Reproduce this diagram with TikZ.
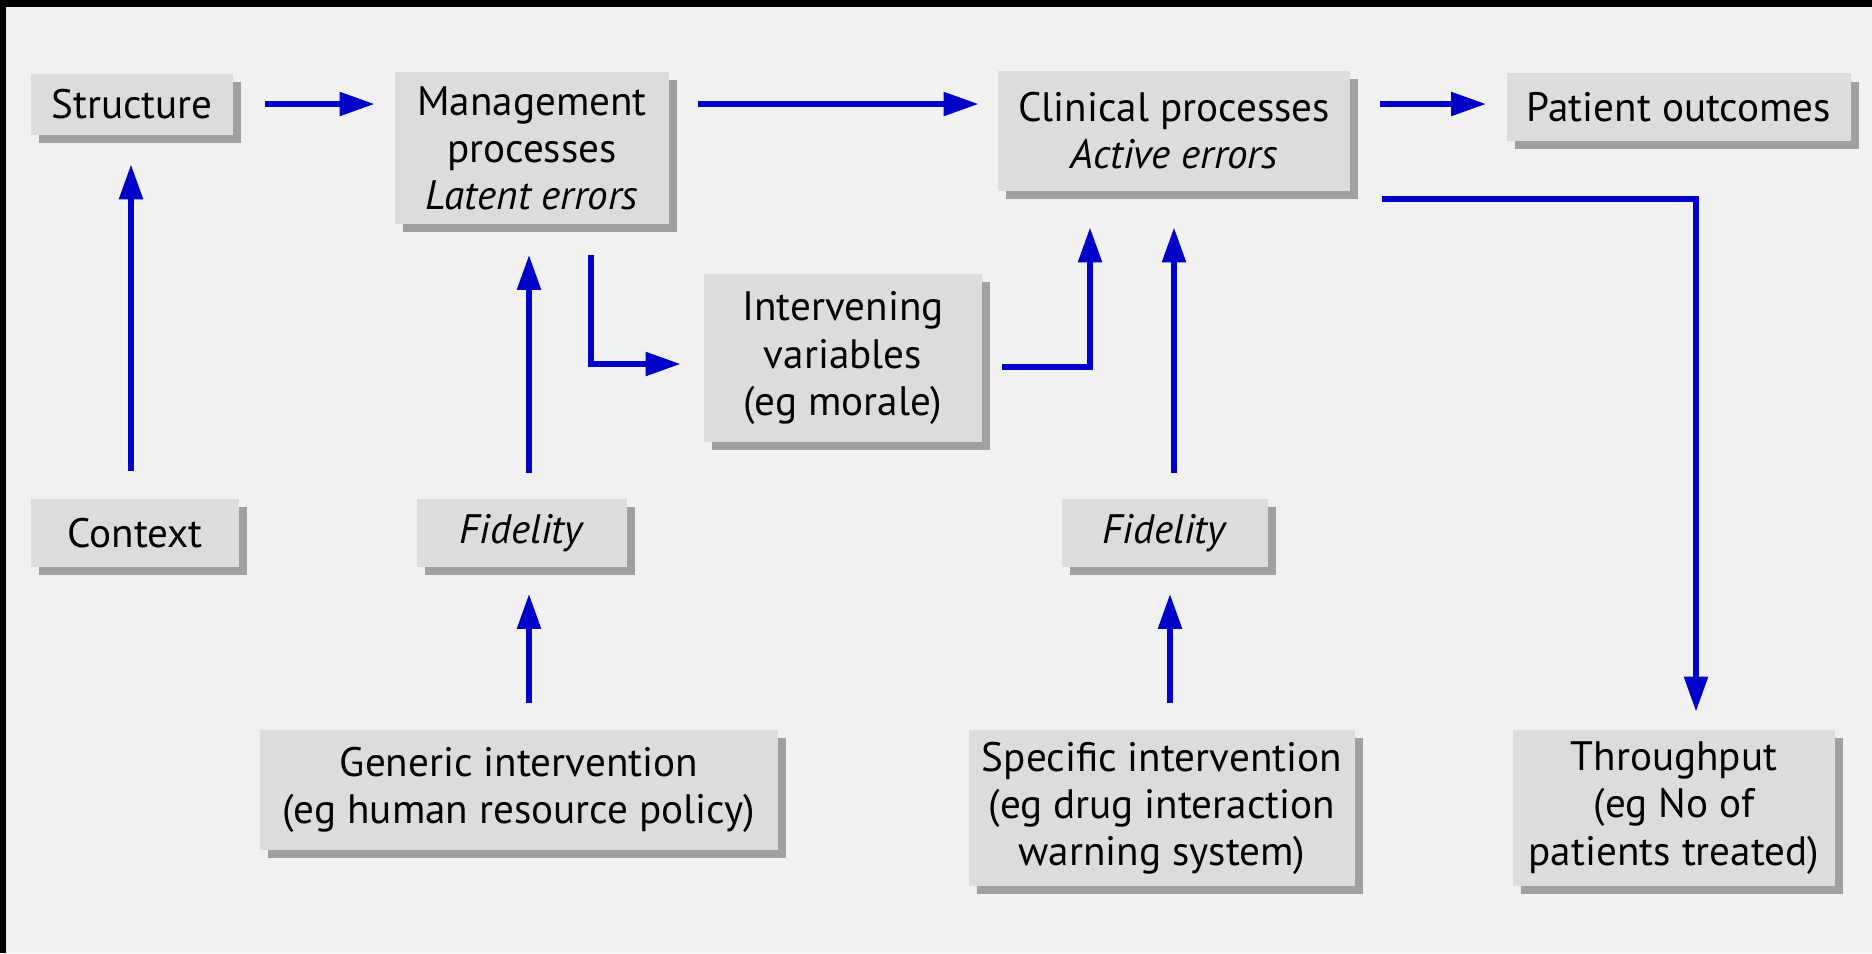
\documentclass[tikz,border=0pt]{standalone}
\usepackage{fontspec}
\setmainfont{PT Sans}
\usetikzlibrary{arrows.meta,shadows,calc}
\definecolor{bg}{HTML}{F1F1F1}
\definecolor{boxfill}{HTML}{DCDCDC}
\definecolor{shade}{HTML}{A0A0A0}
\definecolor{arrblue}{RGB}{0,0,200}
\begin{document}
\begin{tikzpicture}[x=0.01cm,y=-0.01cm,
 box/.style={fill=boxfill, draw=none, align=center, inner sep=0pt,
   font=\fontsize{11.7}{13.4}\selectfont,
   drop shadow={shadow xshift=0.08cm, shadow yshift=-0.08cm, fill=shade, opacity=1}},
 arr/.style={draw=arrblue, line width=1.7pt, -{Triangle[length=10pt,width=6.5pt]}}]
\useasboundingbox (0,0) rectangle (1872,953);
\fill[bg] (0,0) rectangle (1872,953);
\fill[black] (0,0) rectangle (1872,7);
\fill[black] (0,0) rectangle (6,953);

\node[box, minimum width=2.01cm, minimum height=0.61cm] (S) at (132,104) {Structure};
\node[box, minimum width=2.73cm, minimum height=1.52cm] (M) at (532,148) {Management\\processes\\\textit{Latent errors}};
\node[box, minimum width=3.51cm, minimum height=1.19cm] (C) at (1174,131) {Clinical processes\\\textit{Active errors}};
\node[box, minimum width=3.44cm, minimum height=0.67cm] (P) at (1679,107) {Patient outcomes};
\node[box, minimum width=2.77cm, minimum height=1.67cm] (I) at (843,358) {Intervening\\variables\\(eg morale)};
\node[box, minimum width=2.07cm, minimum height=0.68cm] (X) at (135,533) {Context};
\node[box, minimum width=2.09cm, minimum height=0.68cm] (FL) at (522,533) {\textit{Fidelity}};
\node[box, minimum width=2.05cm, minimum height=0.68cm] (FR) at (1165,533) {\textit{Fidelity}};
\node[box, minimum width=5.18cm, minimum height=1.19cm] (G) at (519,790) {Generic intervention\\(eg human resource policy)};
\node[box, minimum width=3.85cm, minimum height=1.55cm] (SP) at (1162,808) {Specific intervention\\(eg drug interaction\\warning system)};
\node[box, minimum width=3.22cm, minimum height=1.55cm] (T) at (1674,808) {Throughput\\(eg No of\\patients treated)};

\draw[arr, shorten <=0.32cm, shorten >=0.2cm] (S.east) -- (S.east -| M.west);
\draw[arr, shorten <=0.29cm, shorten >=0.19cm] (S.east -| M.east) -- (S.east -| C.west);
\draw[arr, shorten <=0.30cm, shorten >=0.2cm] (S.east -| C.east) -- (S.east -| P.west);
\draw[arr] ($(C.south east)+(32,8)$) -| ($(T.north)+(22,-18)$);
\draw[arr] ($(M.south)+(59,30)$) |- ($(I.west)+(-23,6)$);
\draw[arr] ($(I.east)+(20,9)$) -| ($(C.south)+(-84,36)$);
\draw[arr] ($(FR.north)+(9,-25)$) -- ($(C.south)+(0,36)$);
\draw[arr] ($(X.north)+(-4,-27)$) -- ($(S.south)+(-1,29)$);
\draw[arr] ($(FL.north)+(7,-25)$) -- ($(M.south)+(-3,30)$);
\draw[arr] ($(G.north)+(10,-27)$) -- ($(FL.south)+(7,26)$);
\draw[arr] ($(SP.north)+(8,-27)$) -- ($(FR.south)+(5,26)$);
\end{tikzpicture}
\end{document}
